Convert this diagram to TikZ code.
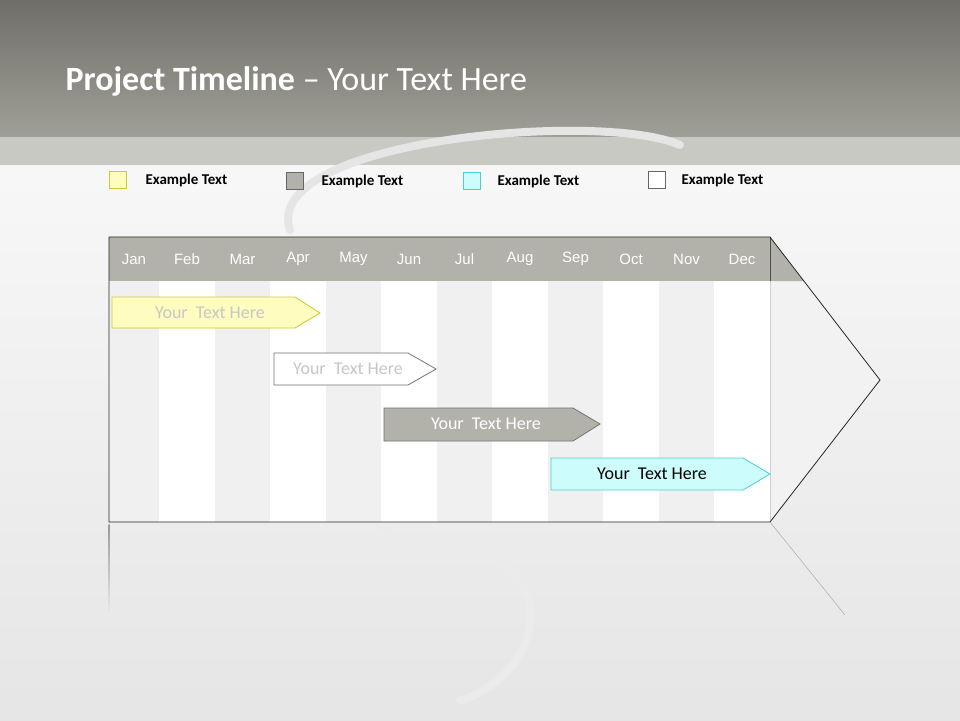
\documentclass[tikz,border=0pt]{standalone}
\usepackage{fontspec}
\setmainfont{Carlito}
\newfontfamily\arialf{Liberation Sans}
\definecolor{hdr}{HTML}{B3B2AA}
\definecolor{colg}{HTML}{F0F0F0}
\definecolor{bandtop}{HTML}{6F6E68}
\definecolor{bandbot}{HTML}{A09F97}
\definecolor{band2}{HTML}{C9C9C3}
\definecolor{cyf}{HTML}{CCFCFC}
\definecolor{cyd}{HTML}{4CCFD0}
\tikzset{
  month/.style={font=\arialf\fontsize{15}{17}\selectfont, text=white},
  legbox/.style={draw=black!60, line width=0.6pt, minimum size=17pt, inner sep=0pt},
  legtxt/.style={font=\bfseries\fontsize{15}{17}\selectfont, anchor=west},
  bar/.style={font=\fontsize{18}{20}\selectfont},
}
\begin{document}
\begin{tikzpicture}[x=1pt,y=-1pt]
\useasboundingbox (0,0) rectangle (960,720);
\shade[top color=white!97!black, bottom color=white!90!black] (0,165) rectangle (960,720);
\shade[top color=bandtop, bottom color=bandbot] (0,0) rectangle (960,137);
\fill[band2] (0,137) rectangle (960,165);
% faint hook
\draw[black!10, line width=8pt, line cap=round] (680,145) .. controls (600,110) and (260,140) .. (290,230);
\draw[black!8, line width=8pt, line cap=round] (380,520) .. controls (390,560) and (520,530) .. (530,610) .. controls (535,670) and (470,700) .. (460,700);
\node[anchor=west, text=white, font=\fontsize{34}{38}\selectfont] (title) at (62,81) {\textbf{Project Timeline} – Your Text Here};
% legend
\node[legbox, fill=yellow!25, draw=yellow!80!black] (l1) at (118,180) {};
\node[legtxt] (t1) at (142,180) {Example Text};
\node[legbox, fill=hdr] (l2) at (295,181) {};
\node[legtxt] (t2) at (318,181) {Example Text};
\node[legbox, fill=cyf, draw=cyd] (l3) at (472,181) {};
\node[legtxt] (t3) at (494,181) {Example Text};
\node[legbox, fill=white] (l4) at (657,180) {};
\node[legtxt] (t4) at (678,180) {Example Text};
% arrow body
\fill[white!95!black] (109,237) -- (770,237) -- (880,380) -- (770,522) -- (109,522) -- cycle;
\fill[hdr] (770,237) -- (804,281) -- (770,281) -- cycle;
\def\xs{{109,159,215,270,326,381,437,492,548,603,659,714,770}}
\foreach \m [count=\i from 0] in {Jan,Feb,Mar,Apr,May,Jun,Jul,Aug,Sep,Oct,Nov,Dec}{
  \pgfmathsetmacro\xa{\xs[\i]}
  \pgfmathsetmacro\xb{\xs[\i+1]}
  \ifodd\i \fill[white] (\xa,281) rectangle (\xb,522);
  \else \fill[colg] (\xa,281) rectangle (\xb,522); \fi
  \fill[hdr] (\xa,237) rectangle (\xb,281);
  \draw[black!70, line width=1pt] (\xb,237) -- (\xb,281);
  \draw[black!18, line width=1pt] (\xb,281) -- (\xb,522);
  \node[month] (m\i) at ({(\xa+\xb)/2},259) {\m};
}
\draw[black!85, line width=0.8pt] (109,522) -- (109,237) -- (770,237) -- (880,380) -- (770,522) -- cycle;
% reflection
\shade[top color=black!40, bottom color=white!92!black] (108.5,524) rectangle (109.5,615);
\draw[black!30, line width=0.6pt] (770,522) -- (845,615);
% bars
\fill[yellow!25, draw=yellow!80!black, line width=0.8pt] (112,297) -- (295,297) -- (320,313) -- (295,328) -- (112,328) -- cycle;
\node[bar, text=black!22] (b1) at (210,313) {Your\ \ Text Here};
\fill[white, draw=black!55, line width=0.8pt] (274,353) -- (408,353) -- (436,369) -- (408,385) -- (274,385) -- cycle;
\node[bar, text=black!22] (b2) at (348,369) {Your\ \ Text Here};
\fill[hdr, draw=black!55, line width=0.8pt] (384,408) -- (573,408) -- (600,424) -- (573,441) -- (384,441) -- cycle;
\node[bar, text=white] (b3) at (486,424) {Your\ \ Text Here};
\fill[cyf, draw=cyd, line width=0.8pt] (551,458) -- (743,458) -- (770,474) -- (743,490) -- (551,490) -- cycle;
\node[bar, text=black] (b4) at (652,474) {Your\ \ Text Here};
\end{tikzpicture}
\end{document}
